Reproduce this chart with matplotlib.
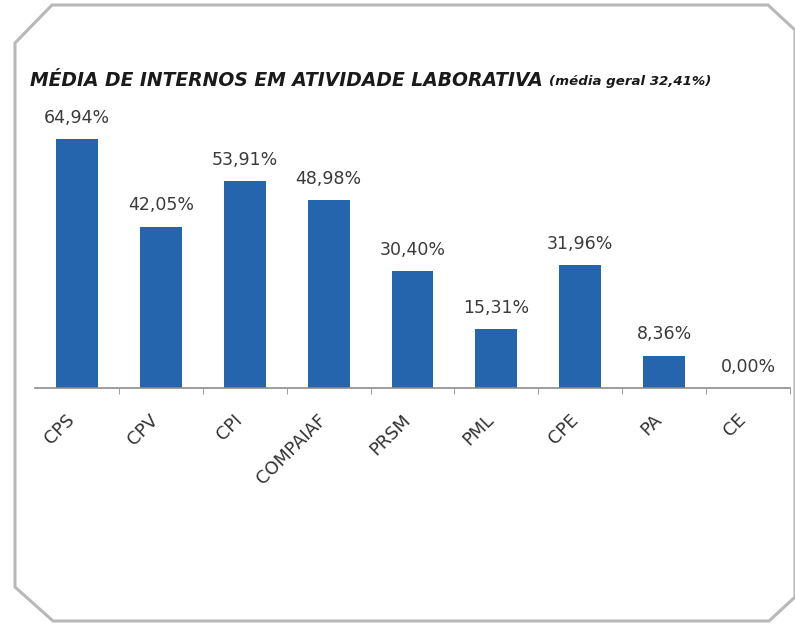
import matplotlib.pyplot as plt
from matplotlib.patches import Polygon
from matplotlib.ticker import FixedLocator
from matplotlib.transforms import ScaledTranslation

# Dados
unidades = ['CPS', 'CPV', 'CPI', 'COMPAIAF', 'PRSM', 'PML', 'CPE', 'PA', 'CE']
valores = [64.94, 42.05, 53.91, 48.98, 30.40, 15.31, 31.96, 8.36, 0.00]
media_geral = 32.41

W, H = 795, 624
plt.rcParams['font.family'] = ['DejaVu Sans']
fig = plt.figure(figsize=(W / 100, H / 100), dpi=100)

# Moldura com cantos cortados
moldura = [(52, 5), (768, 5), (795, 30), (795, 597), (769, 621), (53, 621), (15, 587), (15, 43)]
fig.patches.append(Polygon([(x / W, 1 - y / H) for x, y in moldura], closed=True,
                           transform=fig.transFigure, fill=False,
                           edgecolor='#b8b8b8', linewidth=2.2))

ax = fig.add_axes([35 / W, 1 - 388 / H, 755 / W, (388 - 119.6) / H])
x = range(len(unidades))
bars = ax.bar(x, valores, width=0.5, color='#2565ae')

ax.set_xlim(-0.5, len(unidades) - 0.5)
ax.set_ylim(0, 70)
for s in ['top', 'right', 'left']:
    ax.spines[s].set_visible(False)
ax.spines['bottom'].set_color('#8c8c8c')
ax.spines['bottom'].set_linewidth(1.2)
ax.set_yticks([])

ax.set_xticks(list(x))
ax.set_xticklabels(unidades, rotation=45, ha='right', va='center', rotation_mode='anchor',
                   fontsize=12.8, color='#333333')
ax.tick_params(axis='x', which='major', length=0, pad=21)
deslocamento = ScaledTranslation(-5 / 100, 0, fig.dpi_scale_trans)
for lbl in ax.get_xticklabels():
    lbl.set_transform(lbl.get_transform() + deslocamento)
ax.xaxis.set_minor_locator(FixedLocator([i + 0.5 for i in range(len(unidades))]))
ax.tick_params(axis='x', which='minor', length=4, color='#8c8c8c', direction='out')

# Rótulos dos valores
for bar, v in zip(bars, valores):
    rotulo = f'{v:.2f}%'.replace('.', ',')
    ax.annotate(rotulo, (bar.get_x() + bar.get_width() / 2, bar.get_height()),
                xytext=(0, 9), textcoords='offset points', ha='center', va='bottom',
                fontsize=12.5, color='#3a3a3a')

# Título
fig.text(30 / W, 1 - 80 / H, 'MÉDIA DE INTERNOS EM ATIVIDADE LABORATIVA',
         fontsize=13.5, fontweight='bold', fontstyle='italic', color='#1a1a1a',
         ha='left', va='center')
fig.text(549 / W, 1 - 81 / H, f'(média geral {media_geral:.2f}%)'.replace('.', ','),
         fontsize=9.6, fontweight='bold', fontstyle='italic', color='#1a1a1a',
         ha='left', va='center')

plt.savefig('out.png', dpi=100)
